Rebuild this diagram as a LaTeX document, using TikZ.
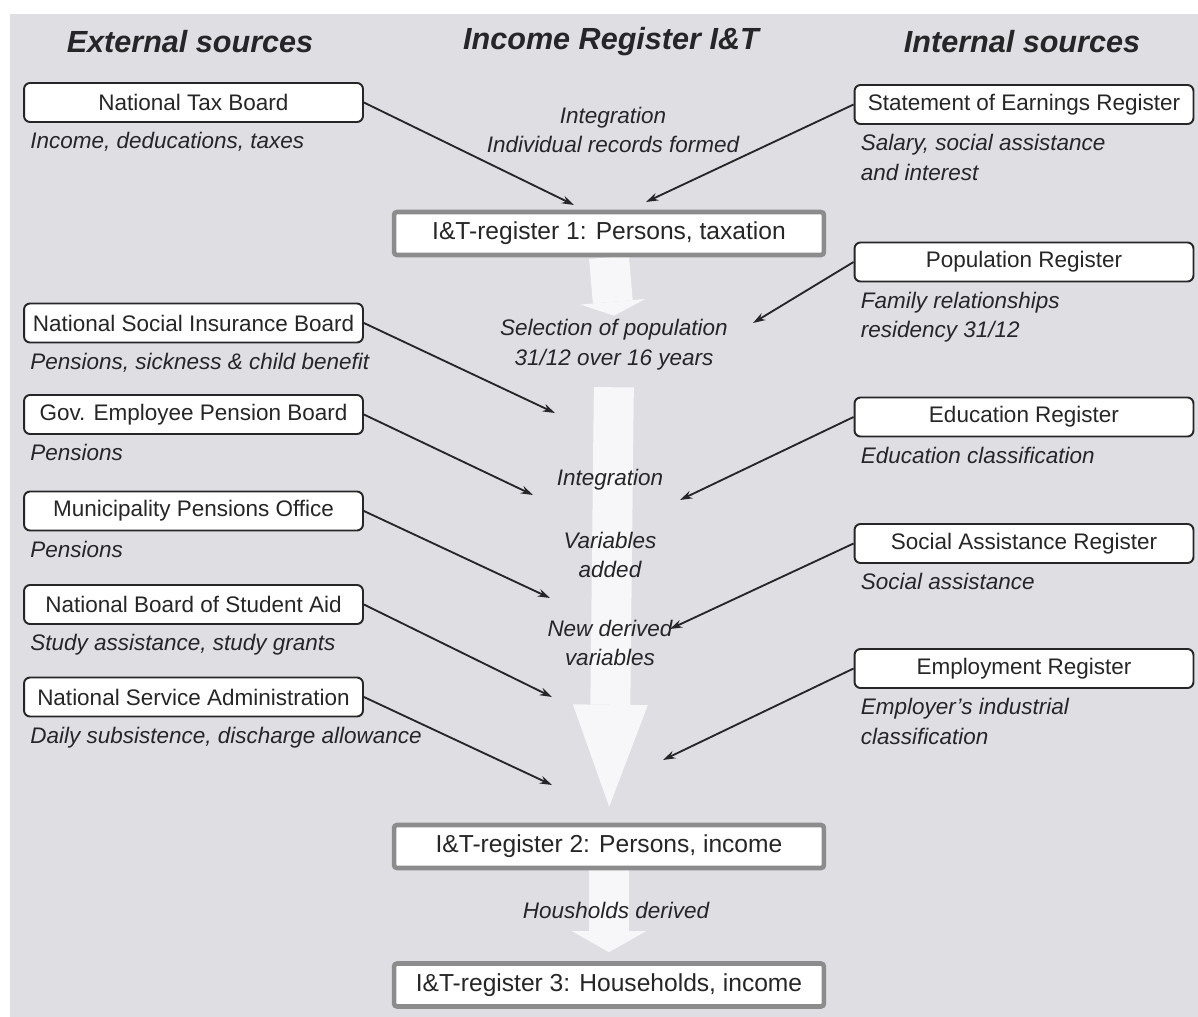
\documentclass[tikz,border=0pt]{standalone}
\usepackage{fontspec}
\setsansfont{Liberation Sans}
\usepackage{xcolor}
\usetikzlibrary{arrows.meta,positioning,shapes,calc}
\pgfdeclarelayer{bg}
\pgfsetlayers{bg,main}
\definecolor{paper}{RGB}{222,222,227}
\definecolor{ink}{RGB}{38,38,40}
\definecolor{flow}{RGB}{247,247,249}

\begin{document}
\begin{tikzpicture}[x=0.02cm,y=-0.02cm,
	src/.style={rectangle,rounded corners=0.12cm,draw=ink,line width=1.1pt,fill=white,text=ink,
		font=\sffamily\fontsize{12.8}{15}\selectfont,minimum width=6.78cm,minimum height=0.78cm,inner sep=0pt},
	reg/.style={rectangle,rounded corners=0.06cm,draw=black!45,line width=2.6pt,fill=white,text=ink,
		font=\sffamily\fontsize{14}{16}\selectfont,minimum width=8.6cm,minimum height=0.86cm,inner sep=0pt},
	note/.style={align=left,inner sep=0pt,text=ink,font=\sffamily\itshape\fontsize{12.8}{17}\selectfont},
	lbl/.style={align=center,inner sep=2pt,text=ink,font=\sffamily\itshape\fontsize{12.8}{17}\selectfont},
	title/.style={text=ink,font=\sffamily\bfseries\itshape\fontsize{17.4}{20}\selectfont},
	feed/.style={->,>={Stealth[length=7pt,width=4.5pt]},draw=ink,line width=1.05pt},
	flowarrow/.style={draw=flow,line width=0.8cm}]

    \useasboundingbox (0,0) rectangle (1198,1017);

    % headings
    \node[title] (ext) at (190,42) {External sources};
    \node[title] (irt) at (611,42) {Income Register I\&T};
    \node[title] (int) at (1022,42) {Internal sources};

    % external sources
    \node[src] (tax) at (193.5,102.5) {National Tax Board};
    \node[note] (taxn) [below right=0.18cm and 0.14cm of tax.south west] {Income, deducations, taxes};
    \node[src] (nsib) at (193.5,323) {National Social Insurance Board};
    \node[note] (nsibn) [below right=0.18cm and 0.14cm of nsib.south west] {Pensions, sickness \& child benefit};
    \node[src] (gov) at (193.5,414.5) {Gov. Employee Pension Board};
    \node[note] (govn) [below right=0.18cm and 0.14cm of gov.south west] {Pensions};
    \node[src] (muni) at (193.5,511) {Municipality Pensions Office};
    \node[note] (munin) [below right=0.18cm and 0.14cm of muni.south west] {Pensions};
    \node[src] (stud) at (193.5,604.5) {National Board of Student Aid};
    \node[note] (studn) [below right=0.18cm and 0.14cm of stud.south west] {Study assistance, study grants};
    \node[src] (serv) at (193.5,697) {National Service Administration};
    \node[note] (servn) [below right=0.18cm and 0.14cm of serv.south west] {Daily subsistence, discharge allowance};

    % internal sources
    \node[src] (earn) at (1024,104.5) {Statement of Earnings Register};
    \node[note] (earnn) [below right=0.18cm and 0.14cm of earn.south west] {Salary, social assistance\\and interest};
    \node[src] (pop) at (1024,262) {Population Register};
    \node[note] (popn) [below right=0.18cm and 0.14cm of pop.south west] {Family relationships\\residency 31/12};
    \node[src] (edu) at (1024,417) {Education Register};
    \node[note] (edun) [below right=0.18cm and 0.14cm of edu.south west] {Education classification};
    \node[src] (soc) at (1024,543.5) {Social Assistance Register};
    \node[note] (socn) [below right=0.18cm and 0.14cm of soc.south west] {Social assistance};
    \node[src] (emp) at (1024,668.5) {Employment Register};
    \node[note] (empn) [below right=0.18cm and 0.14cm of emp.south west] {Employer's industrial\\classification};

    % income register
    \node[reg] (reg1) at (609,233.5) {I\&T-register 1: Persons, taxation};
    \node[reg] (reg2) at (609,846.5) {I\&T-register 2: Persons, income};
    \node[reg] (reg3) at (609,985) {I\&T-register 3: Households, income};

    \node[lbl] (lint) at (613,130) {Integration\\Individual records formed};
    \node[lbl] (lsel) at (614,345) {Selection of population\\31/12 over 16 years};
    \node[lbl] (lint2) at (610,480) {Integration};
    \node[lbl] (lvar) at (610,555) {Variables\\added};
    \node[lbl] (lnew) at (610,643) {New derived\\variables};
    \node[lbl] (lhh) at (616,910) {Housholds derived};

    % arrow tips
    \coordinate (ttax) at (574,205);
    \coordinate (tnsib) at (555,413);
    \coordinate (tgov) at (533,495);
    \coordinate (tmuni) at (550,598);
    \coordinate (tstud) at (552,697);
    \coordinate (tserv) at (552,785);
    \coordinate (tearn) at (646,202);
    \coordinate (tpop) at (753,323);
    \coordinate (tedu) at (680,500);
    \coordinate (tsoc) at (670,629);
    \coordinate (temp) at (663,760);

    \draw[feed] (tax.east) -- (ttax);
    \draw[feed] (nsib.east) -- (tnsib);
    \draw[feed] (gov.east) -- (tgov);
    \draw[feed] (muni.east) -- (tmuni);
    \draw[feed] (stud.east) -- (tstud);
    \draw[feed] (serv.east) -- (tserv);
    \draw[feed] (earn.west) -- (tearn);
    \draw[feed] (pop.west) -- (tpop);
    \draw[feed] (edu.west) -- (tedu);
    \draw[feed] (soc.west) -- (tsoc);
    \draw[feed] (emp.west) -- (temp);

    \begin{pgfonlayer}{bg}
    \fill[white] (0,0) rectangle (1198,1017);
    \fill[paper] (10,14) rectangle (1198,1017);
    \draw[flowarrow,-{Triangle[width=1.3cm,length=0.28cm,line width=0pt]}] (reg1.south) -- (lsel.north);
    \draw[flowarrow,-{Triangle[width=1.5cm,length=2.04cm,line width=0pt]},shorten <=0.26cm,shorten >=0.32cm] (lsel.south) -- (reg2.north);
    \draw[flowarrow,-{Triangle[width=1.48cm,length=0.42cm,line width=0pt]},shorten >=0.18cm] (reg2.south) -- (reg3.north);
    \end{pgfonlayer}

\end{tikzpicture}
\end{document}
